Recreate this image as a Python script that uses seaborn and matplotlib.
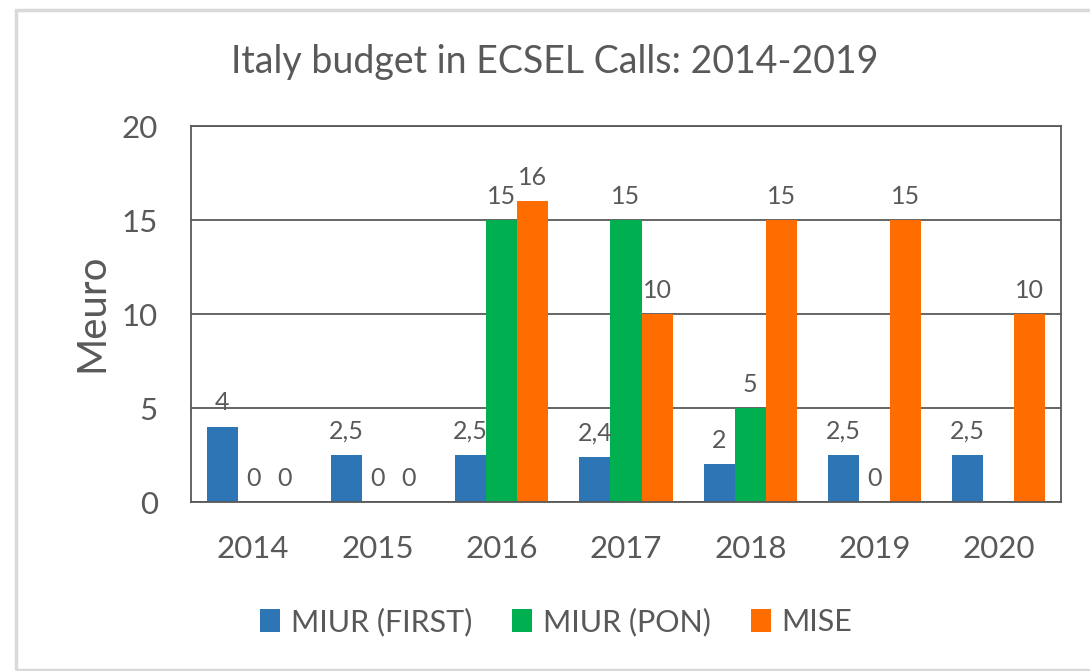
import numpy as np
import pandas as pd
import matplotlib
matplotlib.use("Agg")
import matplotlib.pyplot as plt
from matplotlib.patches import Rectangle
import seaborn as sns

# data (NaN = no bar, no label)
years = ["2014", "2015", "2016", "2017", "2018", "2019", "2020"]
miur_first = [4, 2.5, 2.5, 2.4, 2, 2.5, 2.5]
miur_pon = [0, 0, 15, 15, 5, 0, np.nan]
mise = [0, 0, 16, 10, 15, 15, 10]
series = ["MIUR (FIRST)", "MIUR (PON)", "MISE"]
colors = ["#2E75B6", "#00B050", "#FF6D00"]

df = pd.DataFrame({"year": years, series[0]: miur_first,
                   series[1]: miur_pon, series[2]: mise})
df = df.melt(id_vars="year", var_name="series", value_name="value").dropna()

sns.set_theme(style="white")
plt.rcParams["font.family"] = ["Lato", "DejaVu Sans"]
txt = "#595959"

fig = plt.figure(figsize=(10.9, 6.71), dpi=100)
ax = fig.add_axes([191/1090, 1-502/671, 870/1090, 376/671])

sns.barplot(data=df, x="year", y="value", hue="series", order=years,
            hue_order=series, palette=colors, saturation=1, width=0.75,
            errorbar=None, linewidth=0, ax=ax)

for cont in ax.containers:
    ax.bar_label(cont, fmt=lambda v: f"{v:g}".replace(".", ","),
                 padding=9, fontsize=18, color=txt)

ax.set_ylim(0, 20)
ax.set_yticks([0, 5, 10, 15, 20])
ax.yaxis.grid(True, color=txt, lw=1.3)
ax.set_axisbelow(True)
for s in ax.spines.values():
    s.set_visible(True)
    s.set_color(txt)
    s.set_linewidth(1.3)
ax.tick_params(axis="both", length=0, labelsize=22.5, labelcolor=txt)
ax.tick_params(axis="x", pad=24)
ax.tick_params(axis="y", pad=24)
ax.set_xlabel("")
ax.set_ylabel("Meuro", fontsize=29, color=txt)
ax.yaxis.set_label_coords(-0.093, 0.503)

fig.text(555/1090, 1-62/671, "Italy budget in ECSEL Calls: 2014-2019",
         ha="center", va="center", fontsize=27, color=txt)

ax.legend(loc="center", bbox_to_anchor=(556/1090, 1-622/671),
          bbox_transform=fig.transFigure, ncol=3, frameon=False,
          fontsize=22, labelcolor=txt, handlelength=0.67, handleheight=0.8,
          handletextpad=0.35, columnspacing=1.3)

# light frame around the picture
fig.add_artist(Rectangle((15.5/1090, 1-669.5/671), 1.1, 660/671,
                         transform=fig.transFigure, fill=False,
                         ec="#D9D9D9", lw=2.5))

fig.savefig("out.png", dpi=100)
